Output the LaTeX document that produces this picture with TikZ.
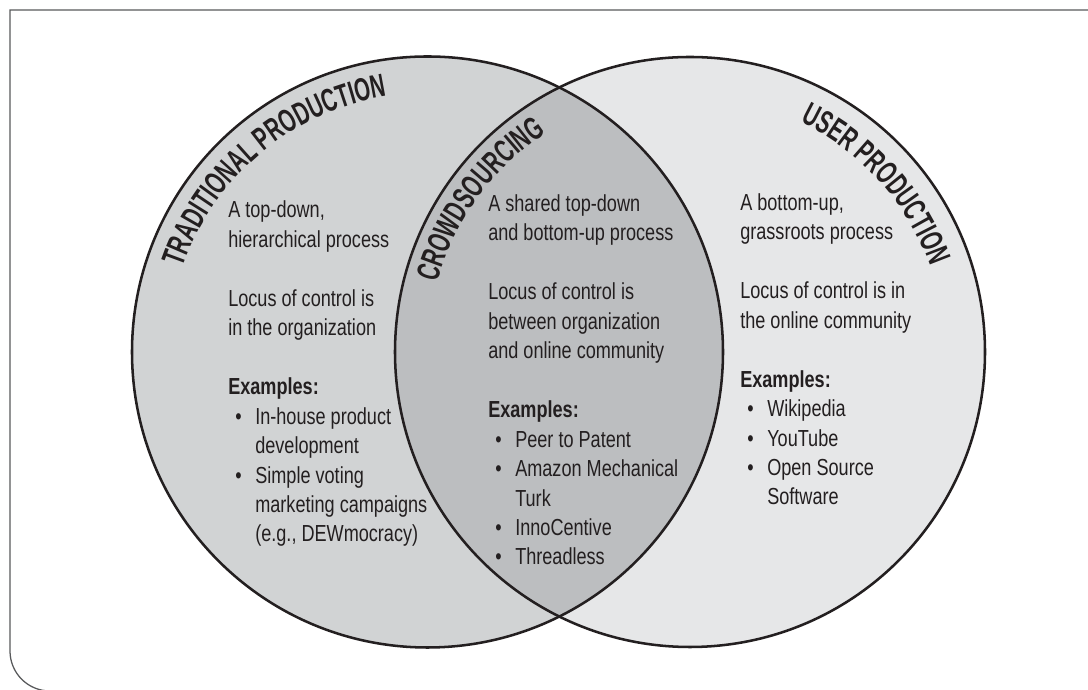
\documentclass[tikz,border=0pt]{standalone}
\usepackage{fontspec}
\setmainfont{Liberation Sans}[FakeStretch=0.78]
\newfontfamily\headfont{Liberation Sans}[FakeStretch=0.63]
\usetikzlibrary{decorations.text}
\definecolor{grayleft}{RGB}{209,211,212}
\definecolor{grayright}{RGB}{230,231,232}
\definecolor{graymid}{RGB}{188,190,192}
\definecolor{ink}{RGB}{35,31,32}
\definecolor{edge}{RGB}{88,89,91}

\newcommand{\bul}{\hspace*{0.175cm}\makebox[0.5cm][l]{\textbullet}}
\newcommand{\cont}{\hspace*{0.675cm}}
\newcommand{\head}{\headfont\bfseries\fontsize{23}{23}\selectfont}

\begin{document}
\begin{tikzpicture}[x=0.025cm,y=0.025cm]
        \tikzstyle{every node}=[text=ink]
        \tikzstyle{block}=[align=left,anchor=base west,inner sep=0pt,
                           font=\fontsize{16.5}{20.95}\selectfont]
        \tikzstyle{ring}=[draw=ink,line width=1.8pt]
        \tikzstyle{title}=[decorate,decoration={text along path,text align=center,text color=ink}]

        \useasboundingbox (0,0) rectangle (1088,690);
        \draw[edge,line width=0.9pt] (1088,680) -- (10,680) -- (10,39)
            arc[start angle=180,end angle=270,radius=40] -- (1088,-1);

        \coordinate (trad) at (427.5,338);
        \coordinate (user) at (690,338);

        \fill[grayleft] (trad) circle[radius=295.5];
        \fill[grayright] (user) circle[radius=295];
        \begin{scope}
            \clip (trad) circle[radius=295.5];
            \fill[graymid] (user) circle[radius=295];
        \end{scope}
        \draw[ring] (trad) circle[radius=295.5];
        \draw[ring] (user) circle[radius=295];

        \path[title,shift={(trad)},decoration={text={|\head|TRADITIONAL PRODUCTION}}]
            (175:259) arc[start angle=175,end angle=85,radius=259];
        \path[title,shift={(user)},decoration={text={|\head|CROWDSOURCING}}]
            (185:262) arc[start angle=185,end angle=103,radius=262];
        \path[title,shift={(user)},decoration={text={|\head|USER PRODUCTION}}]
            (85:255) arc[start angle=85,end angle=-1,radius=255];

        \node[block] (tradtext) at (228,148) {A top-down,\\hierarchical process\\[20.95pt]
            Locus of control is\\in the organization\\[20.95pt]
            \textbf{Examples:}\\\bul In-house product\\\cont development\\
            \bul Simple voting\\\cont marketing campaigns\\\cont (e.g., DEWmocracy)};
        \node[block] (crowdtext) at (488,125) {A shared top-down\\and bottom-up process\\[20.95pt]
            Locus of control is\\between organization\\and online community\\[20.95pt]
            \textbf{Examples:}\\\bul Peer to Patent\\\bul Amazon Mechanical\\\cont Turk\\
            \bul InnoCentive\\\bul Threadless};
        \node[block] (usertext) at (740,185) {A bottom-up,\\grassroots process\\[20.95pt]
            Locus of control is in\\the online community\\[20.95pt]
            \textbf{Examples:}\\\bul Wikipedia\\\bul YouTube\\\bul Open Source\\\cont Software};
\end{tikzpicture}
\end{document}
